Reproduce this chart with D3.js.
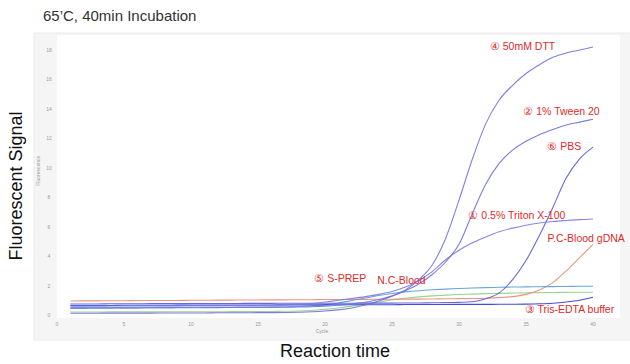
<!DOCTYPE html>
<html>
<head>
<meta charset="utf-8">
<script src="https://cdn.jsdelivr.net/npm/d3@7"></script>
<style>
    body { margin: 0; background: #fff; }
    svg { display: block; font-family: Arial, 'Liberation Sans', sans-serif; }
</style>
</head>
<body>
<svg id="js-graph-svg"></svg>
<script>
'use strict';

const cycles = [1, 2, 3, 4, 5, 6, 7, 8, 9, 10, 11, 12, 13, 14, 15, 16, 17, 18, 19, 20,
    21, 22, 23, 24, 25, 26, 27, 28, 29, 30, 31, 32, 33, 34, 35, 36, 37, 38, 39, 40];

const xTicks = [0, 5, 10, 15, 20, 25, 30, 35, 40];
const yTicks = [0, 2, 4, 6, 8, 10, 12, 14, 16, 18];

const dtt = [0.45, 0.45, 0.46, 0.46, 0.47, 0.47, 0.48, 0.48, 0.49, 0.49,
    0.5, 0.5, 0.51, 0.51, 0.52, 0.52, 0.53, 0.54, 0.56, 0.6,
    0.66, 0.74, 0.86, 1.05, 1.3, 1.7, 2.4, 3.4, 5.2, 7.8,
    10.6, 13.0, 14.6, 15.6, 16.4, 17.0, 17.5, 17.8, 18.0, 18.2];
const tween = [0.12, 0.12, 0.12, 0.13, 0.13, 0.13, 0.13, 0.14, 0.14, 0.14,
    0.14, 0.15, 0.15, 0.15, 0.16, 0.16, 0.17, 0.19, 0.22, 0.27,
    0.35, 0.48, 0.68, 0.95, 1.28, 1.65, 2.1, 2.75, 3.6, 4.8,
    6.9, 8.9, 10.3, 11.2, 11.8, 12.25, 12.6, 12.9, 13.1, 13.3];
const pbs = [0.75, 0.75, 0.75, 0.76, 0.76, 0.76, 0.77, 0.77, 0.77, 0.78,
    0.78, 0.78, 0.78, 0.79, 0.79, 0.79, 0.8, 0.8, 0.8, 0.8,
    0.8, 0.8, 0.81, 0.81, 0.81, 0.82, 0.82, 0.83, 0.84, 0.86,
    0.9, 1.1, 1.5, 2.4, 3.7, 5.4, 7.3, 9.3, 10.6, 11.4];
const triton = [0.6, 0.6, 0.6, 0.61, 0.61, 0.61, 0.62, 0.62, 0.62, 0.63,
    0.63, 0.63, 0.64, 0.64, 0.65, 0.66, 0.68, 0.72, 0.78, 0.88,
    1.0, 1.12, 1.25, 1.4, 1.6, 1.9, 2.35, 2.95, 3.75, 4.4,
    4.9, 5.3, 5.65, 5.9, 6.1, 6.25, 6.35, 6.42, 6.48, 6.52];
const sprep = [0.5, 0.5, 0.5, 0.5, 0.51, 0.51, 0.51, 0.52, 0.52, 0.52,
    0.53, 0.53, 0.53, 0.54, 0.54, 0.55, 0.56, 0.58, 0.62, 0.7,
    0.82, 0.98, 1.15, 1.32, 1.46, 1.57, 1.65, 1.71, 1.76, 1.8,
    1.83, 1.86, 1.88, 1.9, 1.91, 1.92, 1.93, 1.94, 1.95, 1.95];
const trisEdta = [0.65, 0.65, 0.65, 0.65, 0.66, 0.66, 0.66, 0.66, 0.67, 0.67,
    0.67, 0.67, 0.68, 0.68, 0.68, 0.68, 0.69, 0.69, 0.69, 0.69,
    0.7, 0.7, 0.7, 0.7, 0.7, 0.71, 0.71, 0.71, 0.71, 0.72,
    0.72, 0.72, 0.73, 0.73, 0.74, 0.76, 0.8, 0.88, 1.0, 1.2];
const pcBlood = [0.95, 0.96, 0.96, 0.97, 0.97, 0.98, 0.98, 0.99, 0.99, 1.0,
    1.0, 1.01, 1.01, 1.02, 1.02, 1.03, 1.03, 1.04, 1.04, 1.05,
    1.05, 1.06, 1.06, 1.07, 1.07, 1.08, 1.08, 1.09, 1.1, 1.11,
    1.12, 1.14, 1.18, 1.25, 1.4, 1.7, 2.2, 3.0, 3.9, 4.8];
const ncBlood = [0.2, 0.2, 0.2, 0.21, 0.21, 0.21, 0.21, 0.22, 0.22, 0.22,
    0.22, 0.22, 0.23, 0.23, 0.23, 0.24, 0.25, 0.27, 0.31, 0.38,
    0.48, 0.6, 0.74, 0.88, 1.02, 1.14, 1.23, 1.3, 1.35, 1.39,
    1.42, 1.45, 1.47, 1.49, 1.5, 1.52, 1.53, 1.54, 1.55, 1.55];

(function () {
    const d3 = window.d3;
    const width = 630;
    const height = 364;

    const series = [
        {values: ncBlood, color: '#8fcf8a'},
        {values: pcBlood, color: '#e88a78'},
        {values: sprep, color: '#5b9bd5'},
        {values: trisEdta, color: '#2a3cd0'},
        {values: pbs, color: '#5858d8'},
        {values: triton, color: '#7a7ae0'},
        {values: tween, color: '#6e6edc'},
        {values: dtt, color: '#7272de'}
    ];

    // label text, left x, baseline y (in data units so they follow the scales)
    const labels = [
        {text: '④ 50mM DTT', c: 32.3, v: 18.0},
        {text: '② 1% Tween 20', c: 34.8, v: 13.6},
        {text: '⑥ PBS', c: 36.6, v: 11.2},
        {text: '① 0.5% Triton X-100', c: 30.7, v: 6.5},
        {text: 'P.C-Blood  gDNA', c: 36.6, v: 4.95},
        {text: '⑤ S-PREP', c: 19.2, v: 2.25},
        {text: 'N.C-Blood', c: 23.9, v: 2.1},
        {text: '③ Tris-EDTA buffer', c: 34.9, v: 0.15}
    ];

    const x = d3.scaleLinear().domain([0, 40]).range([57, 593]);
    const y = d3.scaleLinear().domain([0, 18]).range([315, 50]);

    const svg = d3.select('#js-graph-svg')
        .attr('width', width)
        .attr('height', height);

    // instrument panel
    svg.append('rect')
        .attr('x', 34).attr('y', 33)
        .attr('width', 620).attr('height', 307)
        .attr('fill', '#f5f5f5')
        .attr('stroke', '#ebebeb');

    svg.append('rect')
        .attr('x', 57).attr('y', y(19))
        .attr('width', 563).attr('height', y(-0.2) - y(19))
        .attr('fill', '#fff');

    const axisColor = '#999';

    svg.append('g')
        .selectAll('text')
        .data(yTicks)
        .enter().append('text')
        .attr('x', 49)
        .attr('y', d => y(d) + 2)
        .attr('text-anchor', 'middle')
        .attr('font-size', 5)
        .attr('fill', axisColor)
        .text(d => d);

    svg.append('g')
        .selectAll('text')
        .data(xTicks)
        .enter().append('text')
        .attr('x', d => x(d))
        .attr('y', 326)
        .attr('text-anchor', 'middle')
        .attr('font-size', 5)
        .attr('fill', axisColor)
        .text(d => d);

    svg.append('text')
        .attr('x', x(20) - 3)
        .attr('y', 333)
        .attr('text-anchor', 'middle')
        .attr('font-size', 5)
        .attr('fill', axisColor)
        .text('Cycle');

    svg.append('text')
        .attr('transform', 'translate(40,' + y(9.8) + ') rotate(-90)')
        .attr('text-anchor', 'middle')
        .attr('font-size', 5)
        .attr('fill', axisColor)
        .text('Fluorescence');

    const line = d3.line()
        .x((d, i) => x(cycles[i]))
        .y(d => y(d))
        .curve(d3.curveMonotoneX);

    svg.append('g')
        .selectAll('path')
        .data(series)
        .enter().append('path')
        .attr('fill', 'none')
        .attr('stroke', d => d.color)
        .attr('stroke-width', 1.1)
        .attr('stroke-opacity', 0.9)
        .attr('d', d => line(d.values));

    svg.append('g')
        .selectAll('text')
        .data(labels)
        .enter().append('text')
        .attr('x', d => x(d.c))
        .attr('y', d => y(d.v))
        .attr('font-size', 10.5)
        .attr('fill', '#e02a2a')
        .text(d => d.text);

    // outer titles
    svg.append('text')
        .attr('x', 43)
        .attr('y', 21)
        .attr('font-size', 15)
        .attr('fill', '#333')
        .text('65\u2019C, 40min Incubation');

    svg.append('text')
        .attr('transform', 'translate(22,186) rotate(-90)')
        .attr('text-anchor', 'middle')
        .attr('font-size', 18)
        .attr('fill', '#111')
        .text('Fluorescent Signal');

    svg.append('text')
        .attr('x', 335)
        .attr('y', 357)
        .attr('text-anchor', 'middle')
        .attr('font-size', 18)
        .attr('fill', '#111')
        .text('Reaction time');
})();
</script>
</body>
</html>
